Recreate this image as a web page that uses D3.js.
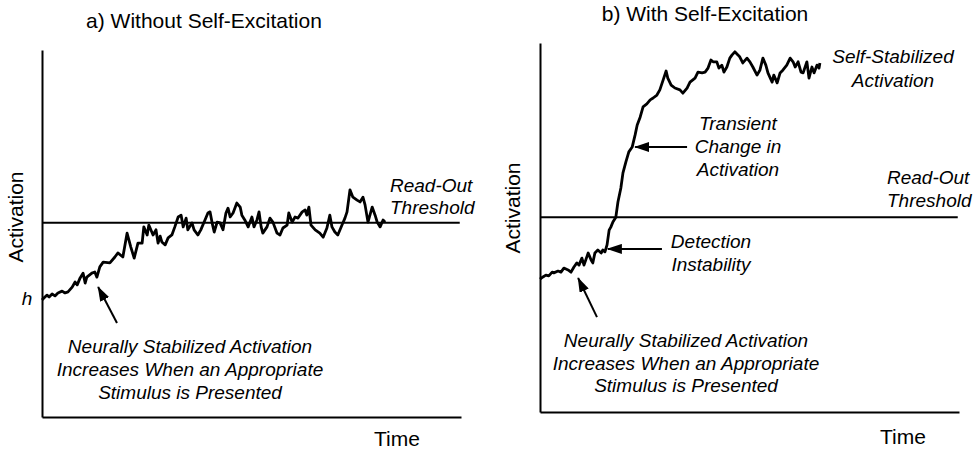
<!DOCTYPE html>
<html>
<head>
<meta charset="utf-8">
<script src="https://cdn.jsdelivr.net/npm/d3@7"></script>
<style>
  html, body { margin: 0; padding: 0; background: #fff; }
  svg { display: block; }
  text { font-family: "Liberation Sans", Arial, Helvetica, sans-serif; fill: #000; }
</style>
</head>
<body>
<svg id="chart" width="979" height="450"></svg>
<script>
// ---------------- DATA ----------------
// Panel a) Without self-excitation : time (0-100), activation (0-100)
const timeA = [0,0.7,1.2,1.7,2.4,3.1,3.8,4.8,5.5,6.2,7.2,7.9,8.4,9.1,9.8,10.3,10.7,11.9,12.6,13.1,13.8,14.6,16.2,17.4,18.1,19.3,20.3,21.2,22.0,22.9,23.9,24.3,25.1,25.5,26.5,27.2,27.7,28.2,28.6,29.4,30.1,31.0,31.7,32.5,33.2,33.7,34.4,34.8,35.8,36.3,37.2,37.9,38.9,39.6,40.1,40.6,41.1,41.8,42.5,43.2,43.9,44.4,44.9,45.6,46.5,47.3,47.7,48.4,49.2,50.1,50.6,51.3,51.8,52.3,52.7,53.7,54.4,55.1,56.1,56.8,57.5,58.5,58.9,59.7,60.4,61.1,62.1,62.8,63.2,63.7,64.2,65.2,66.3,67.1,68.0,68.7,69.2,69.9,70.6,71.6,72.3,72.8,73.5,74.2,75.2,75.9,76.6,77.1,77.8,78.8,79.5,80.0,80.7,81.4,81.9];
const activationA = [31.9,32.7,33.2,32.7,33.5,33.0,33.8,34.3,33.8,34.1,35.4,36.8,36.0,37.9,39.2,36.5,38.1,39.2,39.5,38.1,40.9,42.2,42.0,43.6,44.7,43.6,50.1,46.3,43.3,47.4,47.4,51.8,49.6,52.3,49.6,51.0,47.4,49.3,47.7,46.9,48.8,49.6,51.8,54.5,55.0,51.8,54.2,51.0,52.9,51.0,49.6,51.0,53.7,55.6,55.9,52.9,50.4,53.1,52.9,51.0,55.6,56.9,54.5,55.6,58.3,57.2,55.0,53.7,51.8,54.5,51.8,53.7,55.9,51.8,50.1,51.8,54.2,53.1,50.1,49.6,51.5,52.3,55.6,53.1,54.5,54.2,55.9,56.4,55.0,57.2,52.3,51.0,50.1,49.0,51.5,55.0,51.8,50.4,49.6,52.3,54.2,55.9,61.9,59.9,59.1,58.6,59.9,57.8,53.1,57.2,55.0,53.1,51.8,53.7,53.1];

// Panel b) With self-excitation
const timeB = [0,0.7,1.4,2.1,2.9,3.3,4.3,5.0,5.7,6.7,7.4,8.1,8.8,9.3,10.0,10.5,11.5,12.2,12.6,13.1,13.8,14.6,15.0,15.5,16.0,16.5,16.9,17.4,18.1,18.6,19.3,19.8,20.5,21.2,22.0,22.7,23.2,23.9,24.6,25.5,26.3,27.0,27.9,28.6,29.4,30.1,30.5,31.3,32.2,33.4,34.1,35.1,35.8,37.0,37.7,38.7,39.4,40.1,40.8,41.3,42.2,42.7,43.4,43.9,44.6,45.3,45.8,46.5,47.3,47.7,48.4,49.4,50.1,50.8,51.8,52.5,53.2,53.9,54.4,55.4,55.8,56.6,57.3,58.0,58.9,59.7,60.4,60.9,61.6,62.3,62.8,63.7,64.2,64.9,65.4,66.1,66.6,66.8];
const activationB = [36.0,36.6,37.1,36.9,37.9,37.7,38.2,37.9,39.0,38.5,37.9,39.3,40.4,39.8,41.7,39.8,43.1,41.2,40.4,43.1,43.9,43.1,43.9,43.4,45.3,49.3,50.1,51.5,52.8,56.9,60.7,64.8,67.8,70.5,71.8,75.1,77.8,79.9,82.7,83.5,84.6,85.1,85.9,87.3,90.0,92.4,90.5,88.6,87.8,87.3,86.4,87.8,89.4,90.5,92.1,91.9,92.1,93.2,95.4,94.9,94.9,93.2,94.0,92.1,93.5,95.9,96.7,97.6,96.7,96.2,94.6,95.9,94.9,93.5,91.3,92.7,95.9,94.0,91.9,89.4,91.3,89.2,91.9,92.7,94.0,95.9,94.9,93.5,94.9,92.1,91.9,94.9,90.5,93.5,91.9,94.0,93.2,94.6];

const thresholdA = 52.9;
const thresholdB = 52.8;
const restingLevelA = 31.9; // h

const titles = ["a) Without Self-Excitation", "b) With Self-Excitation"];
const yLabel = "Activation";
const xLabel = "Time";
const thresholdLabel = ["Read-Out", "Threshold"];
const stimulusLabel = ["Neurally Stabilized Activation", "Increases When an Appropriate", "Stimulus is Presented"];
const selfStabLabel = ["Self-Stabilized", "Activation"];
const transientLabel = ["Transient", "Change in", "Activation"];
const detectionLabel = ["Detection", "Instability"];

// ---------------- DRAW ----------------
const svg = d3.select("#chart");

const defs = svg.append("defs");
defs.append("marker")
  .attr("id", "arrowhead")
  .attr("viewBox", "0 0 15 10")
  .attr("refX", 14).attr("refY", 5)
  .attr("markerUnits", "userSpaceOnUse")
  .attr("markerWidth", 15).attr("markerHeight", 10)
  .attr("orient", "auto")
  .append("path").attr("d", "M0,0L15,5L0,10Z").attr("fill", "#000");

function makePanel(opts) {
  const g = svg.append("g").attr("transform", `translate(${opts.left},${opts.top})`);
  const x = d3.scaleLinear().domain([0, 100]).range([0, opts.width]);
  const y = d3.scaleLinear().domain([0, 100]).range([opts.height, 0]);

  g.append("g").call(d3.axisLeft(y).tickValues([]).tickSizeOuter(0));
  g.append("g").attr("transform", `translate(0,${opts.height})`)
    .call(d3.axisBottom(x).tickValues([]).tickSizeOuter(0));
  g.selectAll(".domain").attr("stroke", "#000").attr("stroke-width", 2);

  g.append("line")
    .attr("x1", x(0)).attr("x2", x(99.7))
    .attr("y1", y(opts.threshold)).attr("y2", y(opts.threshold))
    .attr("stroke", "#000").attr("stroke-width", 2);

  const pts = opts.t.map((t, i) => [t, opts.a[i]]);
  g.append("path")
    .datum(pts)
    .attr("fill", "none").attr("stroke", "#000")
    .attr("stroke-width", 2.8).attr("stroke-linejoin", "round")
    .attr("d", d3.line().x(d => x(d[0])).y(d => y(d[1])));

  return { g, x, y };
}

function multiline(g, lines, x, y0, dy, anchor, size, italic) {
  const t = g.append("text")
    .attr("text-anchor", anchor)
    .attr("font-size", size)
    .attr("font-style", italic ? "italic" : "normal");
  lines.forEach((l, i) => {
    t.append("tspan").attr("x", x).attr("y", y0 + i * dy).text(l);
  });
  return t;
}

function arrow(g, x1, y1, x2, y2) {
  g.append("line")
    .attr("x1", x1).attr("y1", y1).attr("x2", x2).attr("y2", y2)
    .attr("stroke", "#000").attr("stroke-width", 2)
    .attr("marker-end", "url(#arrowhead)");
}

const A = makePanel({ left: 42, top: 50, width: 419, height: 367, t: timeA, a: activationA, threshold: thresholdA });
const B = makePanel({ left: 540, top: 43, width: 419, height: 369, t: timeB, a: activationB, threshold: thresholdB });

svg.append("text").attr("x", 204).attr("y", 28).attr("text-anchor", "middle").attr("font-size", 21).text(titles[0]);
svg.append("text").attr("x", 705).attr("y", 21).attr("text-anchor", "middle").attr("font-size", 21).text(titles[1]);

svg.append("text").attr("transform", "translate(23,217) rotate(-90)").attr("text-anchor", "middle").attr("font-size", 21).text(yLabel);
svg.append("text").attr("transform", "translate(520,208) rotate(-90)").attr("text-anchor", "middle").attr("font-size", 21).text(yLabel);

svg.append("text").attr("x", 397).attr("y", 446).attr("text-anchor", "middle").attr("font-size", 21).text(xLabel);
svg.append("text").attr("x", 903).attr("y", 444).attr("text-anchor", "middle").attr("font-size", 21).text(xLabel);

A.g.append("text").attr("x", -15).attr("y", A.y(restingLevelA) + 5).attr("text-anchor", "middle")
  .attr("font-size", 19).attr("font-style", "italic").text("h");

multiline(A.g, thresholdLabel, 348, 142, 21.5, "start", 19, true);
multiline(A.g, stimulusLabel, 148, 303, 23, "middle", 19, true);
arrow(A.g, A.x(17.9), A.y(25.6), A.x(13.4), A.y(35.4));

multiline(B.g, selfStabLabel, 353, 20, 24, "middle", 19, true);
multiline(B.g, transientLabel, 198, 87, 23, "middle", 19, true);
multiline(B.g, thresholdLabel, 347, 141, 23, "start", 19, true);
multiline(B.g, detectionLabel, 171, 205, 23, "middle", 19, true);
multiline(B.g, stimulusLabel, 146, 304, 22.5, "middle", 19, true);
arrow(B.g, B.x(35.1), B.y(71.8), B.x(22.7), B.y(71.8));
arrow(B.g, B.x(29.1), B.y(44.2), B.x(16.2), B.y(44.2));
arrow(B.g, B.x(13.6), B.y(25.7), B.x(9.1), B.y(36.3));
</script>
</body>
</html>
